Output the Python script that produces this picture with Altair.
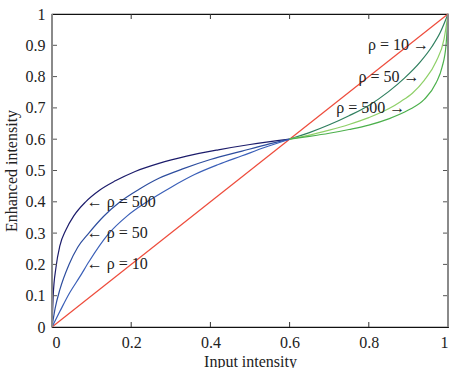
import altair as alt
import pandas as pd

# ---- data ----
diag_x = [0.0, 1.0]
diag_y = [0.0, 1.0]

# blue curves (input 0 .. 0.6)
b500_x = [0, 0.003, 0.01, 0.02, 0.035, 0.055, 0.085, 0.12, 0.16, 0.21, 0.27, 0.34, 0.42, 0.5, 0.6]
b500_y = [0, 0.10, 0.19, 0.26, 0.31, 0.355, 0.40, 0.437, 0.467, 0.497, 0.523, 0.546, 0.566, 0.583, 0.6]

b50_x = [0, 0.008, 0.02, 0.043, 0.065, 0.093, 0.13, 0.172, 0.22, 0.27, 0.33, 0.4, 0.48, 0.54, 0.6]
b50_y = [0, 0.06, 0.12, 0.20, 0.255, 0.30, 0.353, 0.40, 0.44, 0.475, 0.505, 0.535, 0.562, 0.582, 0.6]

b10_x = [0, 0.02, 0.045, 0.07, 0.094, 0.141, 0.19, 0.24, 0.3, 0.36, 0.42, 0.48, 0.54, 0.6]
b10_y = [0, 0.05, 0.11, 0.16, 0.21, 0.295, 0.355, 0.40, 0.446, 0.487, 0.519, 0.547, 0.575, 0.6]

# green curves (input 0.6 .. 1)
g10_x = [0.6, 0.65, 0.7, 0.75, 0.8, 0.85, 0.89, 0.93, 0.96, 0.98, 1.0]
g10_y = [0.6, 0.621, 0.646, 0.675, 0.708, 0.752, 0.795, 0.847, 0.897, 0.94, 1.0]

g50_x = [0.6, 0.65, 0.7, 0.75, 0.8, 0.85, 0.88, 0.91, 0.94, 0.97, 0.99, 1.0]
g50_y = [0.6, 0.613, 0.629, 0.647, 0.669, 0.697, 0.72, 0.747, 0.788, 0.848, 0.92, 1.0]

g500_x = [0.6, 0.65, 0.7, 0.75, 0.8, 0.85, 0.9, 0.94, 0.97, 0.985, 0.995, 1.0]
g500_y = [0.6, 0.609, 0.619, 0.631, 0.645, 0.665, 0.693, 0.727, 0.78, 0.83, 0.9, 1.0]

series_names = ["diag", "b500", "b50", "b10", "g10", "g50", "g500"]
series_colors = ["#ee4b3b", "#1c1c6b", "#2d4d9e", "#3a5fb8", "#2f7f5f", "#8fd068", "#4cb04c"]

x_tick_vals = [0, 0.2, 0.4, 0.6, 0.8, 1]
y_tick_vals = [0, 0.1, 0.2, 0.3, 0.4, 0.5, 0.6, 0.7, 0.8, 0.9, 1]
x_inner_ticks = [0.2, 0.4, 0.6, 0.8]
y_inner_ticks = [0.1, 0.2, 0.3, 0.4, 0.5, 0.6, 0.7, 0.8, 0.9]

left_labels = ["← ρ = 500", "← ρ = 50", "← ρ = 10"]
left_lab_x = [0.088, 0.088, 0.088]
left_lab_y = [0.4, 0.3, 0.2]

right_labels = ["ρ = 10 →", "ρ = 50 →", "ρ = 500 →"]
right_lab_x = [0.952, 0.928, 0.892]
right_lab_y = [0.9, 0.8, 0.7]

# ---- build tables ----
def frame(name, xs, ys):
    return pd.DataFrame({"x": xs, "y": ys, "series": name})

lines = pd.concat([
    frame("diag", diag_x, diag_y),
    frame("b500", b500_x, b500_y),
    frame("b50", b50_x, b50_y),
    frame("b10", b10_x, b10_y),
    frame("g10", g10_x, g10_y),
    frame("g50", g50_x, g50_y),
    frame("g500", g500_x, g500_y),
], ignore_index=True)

W, H = 396, 313
FONT = "Liberation Serif"

xs = alt.Scale(domain=[0, 1], nice=False, zero=False)
ys = alt.Scale(domain=[0, 1], nice=False, zero=False)
xaxis = alt.Axis(title="Input intensity", values=x_tick_vals, format="~g",
                 domain=False, ticks=False, grid=False, labelPadding=7,
                 titlePadding=3)
yaxis = alt.Axis(title="Enhanced intensity", values=y_tick_vals, format="~g",
                 domain=False, ticks=False, grid=False, labelPadding=7,
                 titlePadding=6)

X = alt.X("x:Q", scale=xs, axis=xaxis)
Y = alt.Y("y:Q", scale=ys, axis=yaxis)

curves = alt.Chart(lines).mark_line(strokeWidth=1.2, interpolate="monotone").encode(
    x=X, y=Y,
    color=alt.Color("series:N", scale=alt.Scale(domain=series_names, range=series_colors), legend=None),
    detail="series:N",
)

ydf = pd.DataFrame({"y": y_inner_ticks})
xdf = pd.DataFrame({"x": x_inner_ticks})

left_ticks = alt.Chart(ydf).mark_rule(color="#555", strokeWidth=1).encode(
    y=Y, x=alt.value(0), x2=alt.value(5))
right_ticks = alt.Chart(ydf).mark_rule(color="#555", strokeWidth=1).encode(
    y=Y, x=alt.value(W), x2=alt.value(W - 5))
bottom_ticks = alt.Chart(xdf).mark_rule(color="#333", strokeWidth=1).encode(
    x=X, y=alt.value(H), y2=alt.value(H - 5))
top_ticks = alt.Chart(xdf).mark_rule(color="#333", strokeWidth=1).encode(
    x=X, y=alt.value(0), y2=alt.value(5))

frame_df = pd.DataFrame({"k": [0]})
left_edge = alt.Chart(frame_df).mark_rule(color="#8a8a8a", strokeWidth=2).encode(
    x=alt.value(0), y=alt.value(0), y2=alt.value(H))
right_edge = alt.Chart(frame_df).mark_rule(color="#8a8a8a", strokeWidth=2).encode(
    x=alt.value(W), y=alt.value(0), y2=alt.value(H))

ldf = pd.DataFrame({"x": left_lab_x, "y": left_lab_y, "t": left_labels})
rdf = pd.DataFrame({"x": right_lab_x, "y": right_lab_y, "t": right_labels})

left_text = alt.Chart(ldf).mark_text(align="left", baseline="middle", font=FONT,
                                     fontSize=16, color="#222").encode(x=X, y=Y, text="t:N")
right_text = alt.Chart(rdf).mark_text(align="right", baseline="middle", font=FONT,
                                      fontSize=16, color="#222").encode(x=X, y=Y, text="t:N")

chart = alt.layer(
    curves, left_ticks, right_ticks, bottom_ticks, top_ticks,
    left_edge, right_edge, left_text, right_text,
).properties(
    width=W, height=H,
    autosize=alt.AutoSizeParams(type="none"),
    padding={"left": 52, "top": 14, "right": 5, "bottom": 41},
    background="white",
).configure_view(
    stroke="#111", strokeWidth=1.2,
).configure_axis(
    labelFont=FONT, labelFontSize=16, labelColor="#222",
    titleFont=FONT, titleFontSize=16, titleFontWeight="normal", titleColor="#222",
)

chart.save("out.html", embed_options={"renderer": "svg", "actions": False})
